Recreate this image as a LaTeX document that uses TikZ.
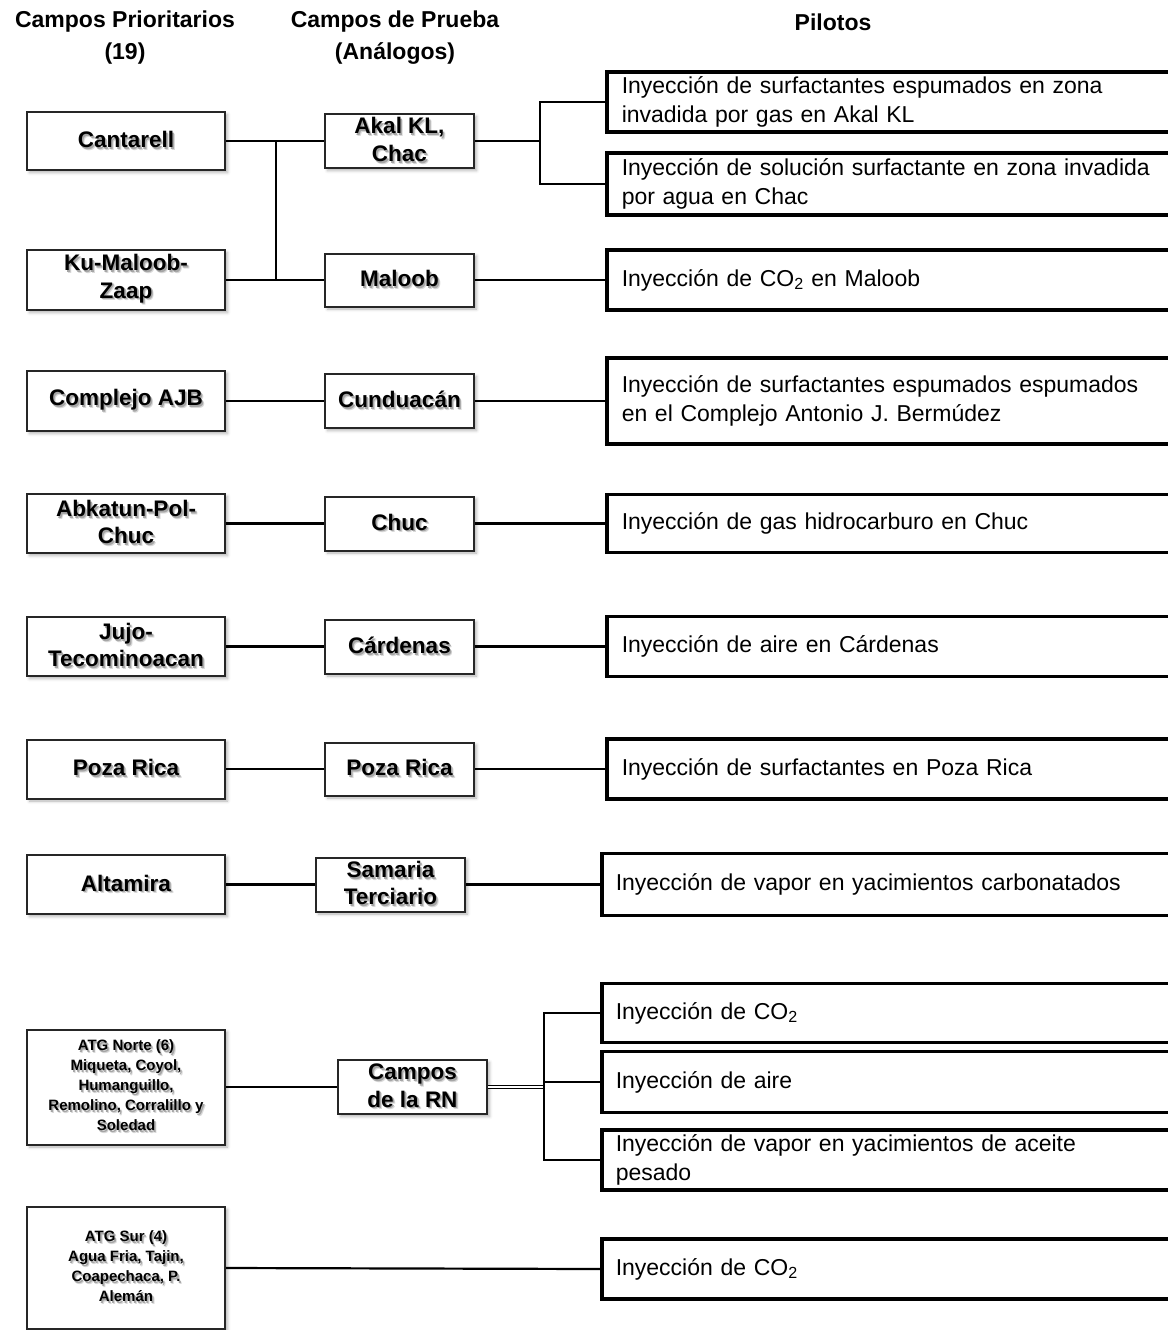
\documentclass[tikz,border=0pt]{standalone}
\usepackage{fontspec}
\setmainfont{Liberation Sans}
\usetikzlibrary{shadows.blur}

% bold label with a soft grey drop shadow under the letters
\newcommand\txtshadow[1]{\leavevmode
  \rlap{\hspace{2.4pt}\raisebox{-2.8pt}{\textcolor{black!15}{#1}}}%
  \rlap{\hspace{1.5pt}\raisebox{-1.8pt}{\textcolor{black!35}{#1}}}%
  #1}

\tikzset{
  fieldbox/.style={draw=black!85, line width=2pt, fill=white, inner sep=0pt,
    align=center, font=\bfseries\fontsize{22.5}{27.5}\selectfont,
    blur shadow={shadow xshift=2.5pt, shadow yshift=-2.5pt,
      shadow opacity=30, shadow blur radius=3pt}},
  smalltext/.style={font=\bfseries\fontsize{15}{20}\selectfont},
  pilot/.style={draw=black, line width=3.5pt, fill=white, anchor=west,
    align=left, text width=620pt, inner xsep=15pt, inner ysep=0pt,
    font=\fontsize{23}{29}\selectfont},
  link/.style={line width=2.2pt, black},
  twinlink/.style={line width=1.8pt, double=white, double distance=1.2pt, black},
  hdr/.style={font=\bfseries\fontsize{23}{32}\selectfont, align=center, inner sep=0pt},
}

\begin{document}
\begin{tikzpicture}[x=1pt, y=-1pt]
\useasboundingbox (0,0) rectangle (1167,1330);

% column headings
\node[hdr] (h1) at (125,38) {Campos Prioritarios\\(19)};
\node[hdr] (h2) at (395,38) {Campos de Prueba\\(Análogos)};
\node[hdr] (h3) at (833,22) {Pilotos};

% priority fields
\node[fieldbox, minimum width=198, minimum height=58] (cant) at (126,141) {\txtshadow{Cantarell}};
\node[fieldbox, minimum width=198, minimum height=60] (kmz)  at (126,280) {\txtshadow{Ku-Maloob-}\\\txtshadow{Zaap}};
\node[fieldbox, minimum width=198, minimum height=60] (ajb)  at (126,401) {\txtshadow{Complejo AJB}};
\node[fieldbox, minimum width=198, minimum height=59] (abk)  at (126,523.5) {\txtshadow{Abkatun-Pol-}\\\txtshadow{Chuc}};
\node[fieldbox, minimum width=198, minimum height=59] (jujo) at (126,646.5) {\txtshadow{Jujo-}\\\txtshadow{Tecominoacan}};
\node[fieldbox, minimum width=198, minimum height=59] (pozaA) at (126,769) {\txtshadow{Poza Rica}};
\node[fieldbox, minimum width=198, minimum height=59] (alt)  at (126,884.5) {\txtshadow{Altamira}};
\node[fieldbox, smalltext, minimum width=198, minimum height=115] (atgn) at (126,1087)
  {\txtshadow{ATG Norte (6)}\\\txtshadow{Miqueta, Coyol,}\\\txtshadow{Humanguillo,}\\\txtshadow{Remolino, Corralillo y}\\\txtshadow{Soledad}};
\node[fieldbox, smalltext, minimum width=198, minimum height=122] (atgs) at (126,1268)
  {\txtshadow{ATG Sur (4)}\\\txtshadow{Agua Fria, Tajin,}\\\txtshadow{Coapechaca, P.}\\\txtshadow{Alemán}};

% test fields (analogues)
\node[fieldbox, minimum width=149, minimum height=54] (akal)   at (399.5,141) {\txtshadow{Akal KL,}\\\txtshadow{Chac}};
\node[fieldbox, minimum width=149, minimum height=53] (maloob) at (399.5,280) {\txtshadow{Maloob}};
\node[fieldbox, minimum width=149, minimum height=54] (cund)   at (399.5,401) {\txtshadow{Cunduacán}};
\node[fieldbox, minimum width=149, minimum height=54] (chuc)   at (399.5,523.5) {\txtshadow{Chuc}};
\node[fieldbox, minimum width=149, minimum height=54] (card)   at (399.5,646.5) {\txtshadow{Cárdenas}};
\node[fieldbox, minimum width=149, minimum height=53] (pozaB)  at (399.5,769) {\txtshadow{Poza Rica}};
\node[fieldbox, minimum width=149, minimum height=54] (sam)    at (390.5,884.5) {\txtshadow{Samaria}\\\txtshadow{Terciario}};
\node[fieldbox, minimum width=149, minimum height=54] (rn)     at (412.5,1087) {\txtshadow{Campos}\\\txtshadow{de la RN}};

% pilot projects
\node[pilot, minimum height=60] (p1) at (605,102) {Inyección de surfactantes espumados en zona\\invadida por gas en Akal KL};
\node[pilot, minimum height=62] (p2) at (605,184) {Inyección de solución surfactante en zona invadida\\por agua en Chac};
\node[pilot, minimum height=60] (p3) at (605,280) {Inyección de CO\textsubscript{2} en Maloob};
\node[pilot, minimum height=86] (p4) at (605,401) {Inyección de surfactantes espumados espumados\\en el Complejo Antonio J. Bermúdez};
\node[pilot, minimum height=58] (p5) at (605,523.5) {Inyección de gas hidrocarburo en Chuc};
\node[pilot, minimum height=60] (p6) at (605,646.5) {Inyección de aire en Cárdenas};
\node[pilot, minimum height=60] (p7) at (605,769) {Inyección de surfactantes en Poza Rica};
\node[pilot, inner xsep=14pt, minimum height=62] (p8)  at (600,884.5) {Inyección de vapor en yacimientos carbonatados};
\node[pilot, inner xsep=14pt, minimum height=59] (p9)  at (600,1013) {Inyección de CO\textsubscript{2}};
\node[pilot, inner xsep=14pt, minimum height=61] (p10) at (600,1082) {Inyección de aire};
\node[pilot, inner xsep=14pt, minimum height=60] (p11) at (600,1160) {Inyección de vapor en yacimientos de aceite\\pesado};
\node[pilot, inner xsep=14pt, minimum height=60] (p12) at (600,1269) {Inyección de CO\textsubscript{2}};

% branching points
\coordinate (ja) at (276,0);
\coordinate (jb) at (540,0);
\coordinate (jc) at (544,0);

% connectors
\draw[link] (cant.east) -- (akal.west);
\draw[link] (kmz.east) -- (maloob.west);
\draw[link] (ja |- cant.east) -- (ja |- kmz.east);
\draw[link] (akal.east) -- (jb |- akal.east);
\draw[link] (p1.west) -| (jb |- p2.west) -- (p2.west);
\draw[link] (maloob.east) -- (p3.west);
\draw[link] (ajb.east) -- (cund.west);
\draw[link] (cund.east) -- (p4.west);
\draw[link] (abk.east) -- (chuc.west);
\draw[link] (chuc.east) -- (p5.west);
\draw[link] (jujo.east) -- (card.west);
\draw[link] (card.east) -- (p6.west);
\draw[link] (pozaA.east) -- (pozaB.west);
\draw[link] (pozaB.east) -- (p7.west);
\draw[link] (alt.east) -- (sam.west);
\draw[link] (sam.east) -- (p8.west);
\draw[link] (atgn.east) -- (rn.west);
\draw[twinlink] (rn.east) -- (jc |- rn.east);
\draw[link] (p9.west) -| (jc |- p11.west) -- (p11.west);
\draw[link] (jc |- p10.west) -- (p10.west);
\draw[link] (atgs.east) -- (p12.west);
\end{tikzpicture}
\end{document}
